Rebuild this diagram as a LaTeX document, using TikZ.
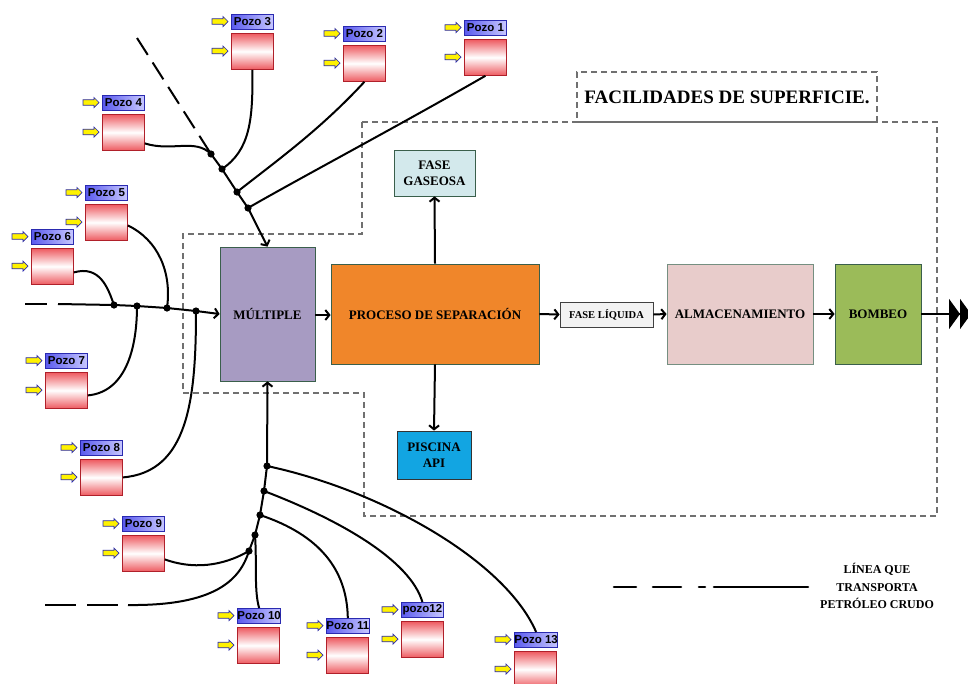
\documentclass[tikz,border=0pt]{standalone}
\usepackage{fontspec}
\setmainfont{Liberation Serif}
\newfontfamily\arialf{Liberation Sans}
\usetikzlibrary{arrows.meta,calc}
\definecolor{multc}{HTML}{A79BC2}
\definecolor{procc}{HTML}{F0862A}
\definecolor{gasc}{HTML}{D3E9EC}
\definecolor{piscc}{HTML}{12A5E2}
\definecolor{liqc}{HTML}{F2F2F2}
\definecolor{almc}{HTML}{E8CCCB}
\definecolor{bombc}{HTML}{9BBB59}
\definecolor{bordg}{HTML}{3A5F4B}
\definecolor{dashg}{HTML}{707070}
\definecolor{lblL}{HTML}{5A5AEE}
\definecolor{lblR}{HTML}{C8C8FF}
\definecolor{lblB}{HTML}{2A2AB0}
\definecolor{boxR}{HTML}{EE5A60}
\definecolor{boxB}{HTML}{B0202A}
\tikzset{
  conn/.style={line width=2pt},
  arr/.style={conn,-{Straight Barb[length=4pt,width=10pt]}},
  dot/.style={fill=black},
  blk/.style={draw=bordg,line width=0.8pt,inner sep=2pt,align=center,
    font=\fontsize{13}{16}\selectfont\bfseries},
  dashbox/.style={draw=dashg,line width=1.1pt,dash pattern=on 6pt off 4pt},
  pozolabel/.style={draw=lblB,line width=0.8pt,left color=lblL,right color=lblR,
    minimum width=42pt,minimum height=15pt,inner sep=0pt,
    font=\arialf\bfseries\fontsize{11.5}{12}\selectfont},
  pozobox/.style={draw=boxB,line width=0.8pt,top color=boxR,bottom color=boxR,middle color=white,
    minimum width=42pt,minimum height=36pt,inner sep=0pt},
  yarrow/.style={draw=lblB,fill=yellow,line width=0.7pt,line join=miter},
}
\newcommand\yarrowat[2]{%
  \draw[yarrow] (#1-19,#2-2.8) -- (#1-8,#2-2.8) -- (#1-8,#2-5) -- (#1-3,#2) -- (#1-8,#2+5)
    -- (#1-8,#2+2.8) -- (#1-19,#2+2.8) -- cycle;}
\newcommand\pozowell[4]{%
  \node[pozolabel,anchor=north west] (#1l) at (#2,#3) {#4};
  \node[pozobox,anchor=north west] (#1b) at (#2,#3+19) {};
  \yarrowat{#2}{#3+7.5}
  \yarrowat{#2}{#3+37}
}
\begin{document}
\begin{tikzpicture}[x=1pt,y=-1pt]
\useasboundingbox (0,0) rectangle (968,683);

% dashed outlines
\node[dashbox,minimum width=300pt,minimum height=50pt,inner sep=0pt,
  font=\fontsize{19}{22}\selectfont\bfseries] (title) at (727,97) {FACILIDADES DE SUPERFICIE.};
\draw[dashbox] (362,122) -- (937,122) -- (937,516) -- (364,516) -- (364,393) -- (183,393)
  -- (183,234) -- (362,234) -- cycle;

% main blocks
\node[blk,fill=multc,minimum width=95pt,minimum height=134pt] (mult) at (267.5,314) {MÚLTIPLE};
\node[blk,fill=procc,minimum width=208pt,minimum height=100pt] (proc) at (435,314) {PROCESO DE SEPARACIÓN};
\node[blk,fill=gasc,minimum width=81pt,minimum height=46pt] (gas) at (434.5,173) {FASE\\GASEOSA};
\node[blk,draw=black!80,fill=piscc,minimum width=74pt,minimum height=48pt] (pisc) at (434,455) {PISCINA\\API};
\node[blk,draw=black!75,fill=liqc,minimum width=93pt,minimum height=25pt,
  font=\fontsize{10.5}{12}\selectfont\bfseries] (liq) at (606.5,314.5) {FASE LÍQUIDA};
\node[blk,draw=bordg!70,fill=almc,minimum width=146pt,minimum height=100pt] (alm) at (740,314) {ALMACENAMIENTO};
\node[blk,fill=bombc,minimum width=86pt,minimum height=100pt] (bomb) at (878,314) {BOMBEO};
\coordinate (out) at (971,314);

\draw[arr] (mult.east |- 0,315) -- (proc.west |- 0,315);
\draw[arr] (proc.north) -- (gas.south);
\draw[arr] (proc.south) -- (pisc.north);
\draw[arr] (proc.east) -- (liq.west);
\draw[arr] (liq.east) -- (alm.west);
\draw[arr] (alm.east) -- (bomb.west);
\draw[conn,-{Triangle[length=11pt,width=30pt] Triangle[length=11pt,width=30pt]}] (bomb.east) -- (out);

% wells
\pozowell{pa}{464}{20}{Pozo 1}
\pozowell{pb}{343}{26}{Pozo 2}
\pozowell{pc}{231}{14}{Pozo 3}
\pozowell{pd}{102}{95}{Pozo 4}
\pozowell{pe}{85}{185}{Pozo 5}
\pozowell{pf}{31}{229}{Pozo 6}
\pozowell{pg}{45}{353}{Pozo 7}
\pozowell{ph}{80}{440}{Pozo 8}
\pozowell{pi}{122}{516}{Pozo 9}
\pozowell{pj}{237}{608}{Pozo 10}
\pozowell{pk}{326}{618}{Pozo 11}
\pozowell{pl}{401}{602}{pozo12}
\pozowell{pm}{514}{632}{Pozo 13}

% top cluster
\coordinate (ts) at (137,38);
\coordinate (t1) at (211,154);
\coordinate (t2) at (222,169);
\coordinate (t3) at (237,192);
\coordinate (t4) at (248,208);
\draw[conn,dash pattern=on 20pt off 9pt] (ts) -- (t1);
\draw[conn] (t1) -- (t2) -- (t3) -- (t4);
\draw[arr] (t4) -- (mult.north);
\draw[conn] ($(pdb.east)+(0,11)$) .. controls (172,152) and (195,138) .. (t1);
\draw[conn] (pcb.south) .. controls (253,120) and (250,150) .. (t2);
\draw[conn] (pbb.south) .. controls (320,130) and (275,162) .. (t3);
\draw[conn] (pab.south) .. controls (400,125) and (300,178) .. (t4);
\foreach \p in {t1,t2,t3,t4} \fill[dot] (\p) circle[radius=3.6pt];

% middle cluster
\coordinate (ms) at (25,304);
\coordinate (mm) at (58,304);
\coordinate (m1) at (114,305);
\coordinate (m2) at (137,306);
\coordinate (m3) at (167,308);
\coordinate (m4) at (196,311);
\draw[conn] (ms) -- (47,304);
\draw[conn] (mm) -- (m1) -- (m2) -- (m3) -- (m4);
\draw[arr] (m4) -- (mult.west);
\draw[conn] ($(pfb.east)+(0,6)$) .. controls (100,265) and (108,288) .. (m1);
\draw[conn] ($(peb.east)+(0,3)$) .. controls (158,240) and (172,272) .. (m3);
\draw[conn] ($(pgb.east)+(0,5)$) .. controls (125,392) and (137,350) .. (m2);
\draw[conn] (phb.east) .. controls (188,472) and (196,400) .. (m4);
\foreach \p in {m1,m2,m3,m4} \fill[dot] (\p) circle[radius=3.6pt];

% bottom cluster
\coordinate (b1) at (267,466);
\coordinate (b2) at (264,491);
\coordinate (b3) at (260,515);
\coordinate (b4) at (255,535);
\coordinate (b5) at (249,551);
\draw[arr] (b1) -- (mult.south);
\draw[conn] (b1) -- (b2) -- (b3) -- (b4) -- (b5);
\draw[conn] (b1) .. controls (380,490) and (505,560) .. (pml.north);
\draw[conn] (b2) .. controls (340,520) and (410,560) .. (pll.north);
\draw[conn] (b3) .. controls (320,535) and (347,570) .. (pkl.north);
\draw[conn] (b4) .. controls (257,565) and (254,590) .. (pjl.north);
\draw[conn] ($(pib.east)+(0,6)$) .. controls (200,572) and (230,562) .. (b5);
\draw[conn,dash pattern=on 31pt off 11pt] (45,605) -- (118,605);
\draw[conn] (128,605) .. controls (215,606) and (240,580) .. (b5);
\foreach \p in {b1,b2,b3,b4,b5} \fill[dot] (\p) circle[radius=3.6pt];

% legend
\draw[conn,line width=2.6pt,line cap=round] (614,587) -- (636,587);
\draw[conn,line width=2.6pt,line cap=round] (653,587) -- (681,587);
\draw[conn,line width=2.6pt,line cap=round] (699,587) -- (705,587);
\draw[conn,line width=2.6pt,line cap=round] (714,587) -- (808,587);
\node[align=center,font=\fontsize{12}{17.5}\selectfont\bfseries] (leg) at (877,586)
  {LÍNEA QUE\\TRANSPORTA\\PETRÓLEO CRUDO};
\end{tikzpicture}
\end{document}
